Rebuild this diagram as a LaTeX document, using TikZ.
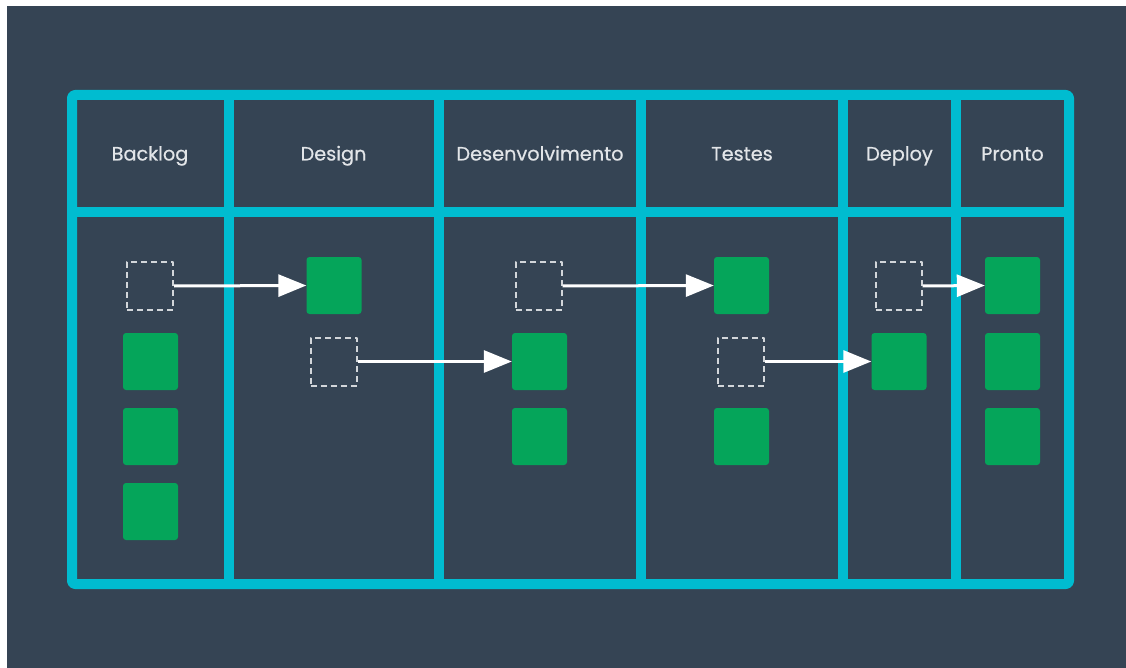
\documentclass[tikz,border=0pt]{standalone}
\usepackage{fontspec}
\setmainfont{Poppins}
\newfontfamily\fonteTitulo{Poppins}[FakeBold=0.6]
\usetikzlibrary{arrows.meta}

\definecolor{fundo}{HTML}{354454}
\definecolor{ciano}{HTML}{00BCD0}
\definecolor{verde}{HTML}{05A55A}
\definecolor{tracejado}{HTML}{D2D6DA}
\definecolor{texto}{HTML}{E2E5E8}

\begin{document}
\begin{tikzpicture}[
    x=1pt,
    y=-1pt,
    line join=round,
    moldura/.style={
        ciano,
        line width=10pt
    },
    cartao/.style={
        fill=verde,
        rounded corners=3pt,
        minimum width=55pt,
        minimum height=57pt,
        inner sep=0pt
    },
    vazio/.style={
        draw=tracejado,
        line width=2pt,
        dash pattern=on 6pt off 4pt,
        minimum width=46pt,
        minimum height=48pt,
        inner sep=0pt
    },
    titulo/.style={
        text=texto,
        anchor=base,
        inner sep=0pt,
        font=\fonteTitulo\fontsize{19.3}{21}\selectfont
    },
    seta/.style={
        draw=white,
        line width=3pt,
        -{Triangle[length=28pt,width=22pt]}
    }
]

% =================================================
% Fundo
% =================================================

\fill[white] (0,0) rectangle (1126,668);
\fill[fundo] (7,6) rectangle (1126,668);
\useasboundingbox (0,0) rectangle (1126,668);

% =================================================
% Quadro
% =================================================

% Contorno externo
\draw[moldura, rounded corners=3pt]
    (72,95) rectangle (1069,584);

% Linha abaixo dos títulos
\draw[moldura] (72,212.5)--(1069,212.5);

% Divisões das colunas
\draw[moldura] (228.5,95)--(228.5,584);
\draw[moldura] (438.5,95)--(438.5,584);
\draw[moldura] (641,95)--(641,584);
\draw[moldura] (843,95)--(843,584);
\draw[moldura] (956,95)--(956,584);

% =================================================
% Títulos das colunas
% =================================================

\node[titulo] (tBacklog) at (150,160.5) {Backlog};
\node[titulo] (tDesign) at (333.5,160.5) {Design};
\node[titulo] (tDesenv) at (540,160.5) {Desenvolvimento};
\node[titulo] (tTestes) at (742,160.5) {Testes};
\node[titulo] (tDeploy) at (899.5,160.5) {Deploy};
\node[titulo] (tPronto) at (1012.5,160.5) {Pronto};

% =================================================
% Cartões
% =================================================

% Backlog
\node[vazio] (vBacklog) at (150,286) {};
\node[cartao] (b1) at (150.5,361.5) {};
\node[cartao] (b2) at (150.5,436.5) {};
\node[cartao] (b3) at (150.5,511.5) {};

% Design
\node[cartao] (d1) at (334,285.5) {};
\node[vazio] (vDesign) at (333.5,361.5) {};

% Desenvolvimento
\node[vazio] (vDesenv) at (538.5,286) {};
\node[cartao] (e1) at (539.5,361.5) {};
\node[cartao] (e2) at (539.5,436.5) {};

% Testes
\node[cartao] (t1) at (741.5,285.5) {};
\node[vazio] (vTestes) at (741,361.5) {};
\node[cartao] (t2) at (741.5,436.5) {};

% Deploy
\node[vazio] (vDeploy) at (898.5,286) {};
\node[cartao] (p1) at (899,361.5) {};

% Pronto
\node[cartao] (r1) at (1012.5,285.5) {};
\node[cartao] (r2) at (1012.5,361.5) {};
\node[cartao] (r3) at (1012.5,436.5) {};

% =================================================
% Movimentação dos cartões
% =================================================

\draw[seta] (vBacklog.east)--(d1.west);
\draw[seta] (vDesign.east)--(e1.west);
\draw[seta] (vDesenv.east)--(t1.west);
\draw[seta] (vTestes.east)--(p1.west);
\draw[seta] (vDeploy.east)--(r1.west);

\end{tikzpicture}
\end{document}
